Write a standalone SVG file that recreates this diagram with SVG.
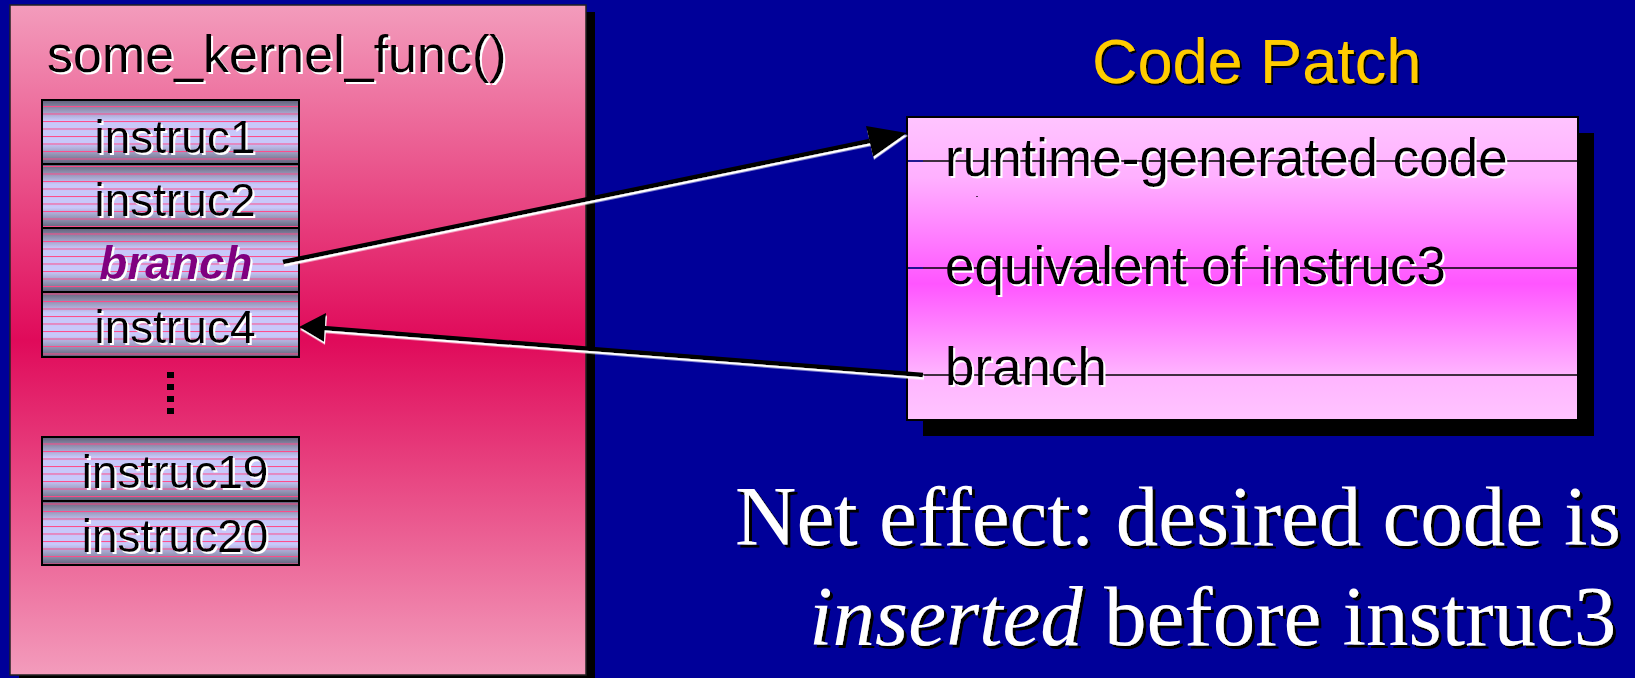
<svg xmlns="http://www.w3.org/2000/svg" width="1635" height="678" viewBox="0 0 1635 678">
<defs>
<linearGradient id="gPanel" x1="0" y1="0" x2="0" y2="1">
<stop offset="0" stop-color="#f39cbc"/>
<stop offset="0.5" stop-color="#e00a5a"/>
<stop offset="1" stop-color="#f39cbc"/>
</linearGradient>
<linearGradient id="gPatch" x1="0" y1="0" x2="0" y2="1">
<stop offset="0" stop-color="#ffc4ff"/>
<stop offset="0.2" stop-color="#ffb0ff"/>
<stop offset="0.55" stop-color="#ff55ff"/>
<stop offset="0.85" stop-color="#ffb4ff"/>
<stop offset="1" stop-color="#ffc4ff"/>
</linearGradient>
<linearGradient id="gInstr" x1="0" y1="0" x2="0" y2="1">
<stop offset="0" stop-color="#5e5e78"/>
<stop offset="0.12" stop-color="#8a8aa8"/>
<stop offset="0.32" stop-color="#c8c8fa"/>
<stop offset="0.68" stop-color="#c8c8fa"/>
<stop offset="0.88" stop-color="#8a8aa8"/>
<stop offset="1" stop-color="#5e5e78"/>
</linearGradient>
<pattern id="pStripe" patternUnits="userSpaceOnUse" x="0" y="1" width="20" height="7.5">
<rect x="0" y="0" width="20" height="1" fill="#ff4a88"/>
</pattern>
<filter id="shW" x="-5%" y="-10%" width="115%" height="130%">
<feDropShadow dx="2" dy="2" stdDeviation="0" flood-color="#ffffff" flood-opacity="1"/>
</filter>
<filter id="shK" x="-5%" y="-10%" width="115%" height="130%">
<feDropShadow dx="3" dy="3" stdDeviation="0" flood-color="#000000" flood-opacity="1"/>
</filter>
<filter id="shK2" x="-5%" y="-10%" width="115%" height="130%">
<feDropShadow dx="2" dy="2" stdDeviation="0" flood-color="#000000" flood-opacity="1"/>
</filter>
<filter id="shArrow" x="-5%" y="-20%" width="115%" height="160%">
<feDropShadow dx="1" dy="2.5" stdDeviation="0" flood-color="#ffffff" flood-opacity="1"/>
</filter>
</defs>
<style>
.sans{font-family:"Liberation Sans",Arial,sans-serif;}
.serif{font-family:"Liberation Serif","Times New Roman",serif;}
.instr-bg{fill:url(#gInstr);}
.instr-st{fill:url(#pStripe);}
.instr-bd{fill:none;stroke:#000;stroke-width:2;}
.itxt{font-size:46px;fill:#000;text-anchor:middle;filter:url(#shW);}
.ptxt{font-size:53px;fill:#000;filter:url(#shW);}
.pline{stroke:#000;stroke-width:1.3;}
.conn{stroke:#000;stroke-width:4.5;fill:none;}
.head{fill:#000;}
</style>
<rect x="0" y="0" width="1635" height="678" fill="#000099"/>

<g id="kernel-func">
<rect x="19" y="12" width="576" height="670" fill="#000"/>
<rect x="10" y="5" width="576" height="670" fill="url(#gPanel)" stroke="#222" stroke-width="1.5"/>
<text class="sans" x="47" y="72" font-size="52" fill="#000" filter="url(#shW)">some_kernel_func()</text>
</g>

<g id="instruc1">
<rect class="instr-bg" x="42" y="100" width="257" height="64"/>
<rect class="instr-st" x="42" y="100" width="257" height="64"/>
<rect class="instr-bd" x="42" y="100" width="257" height="64"/>
<text class="sans itxt" x="175" y="153">instruc1</text>
</g>
<g id="instruc2">
<rect class="instr-bg" x="42" y="164" width="257" height="64"/>
<rect class="instr-st" x="42" y="164" width="257" height="64"/>
<rect class="instr-bd" x="42" y="164" width="257" height="64"/>
<text class="sans itxt" x="175" y="216">instruc2</text>
</g>
<g id="branch">
<rect class="instr-bg" x="42" y="228" width="257" height="64"/>
<rect class="instr-st" x="42" y="228" width="257" height="64"/>
<rect class="instr-bd" x="42" y="228" width="257" height="64"/>
<text class="sans itxt" x="176" y="279" font-weight="bold" font-style="italic" style="fill:#800080">branch</text>
</g>
<g id="instruc4">
<rect class="instr-bg" x="42" y="292" width="257" height="65"/>
<rect class="instr-st" x="42" y="292" width="257" height="65"/>
<rect class="instr-bd" x="42" y="292" width="257" height="65"/>
<text class="sans itxt" x="175" y="343">instruc4</text>
</g>
<g id="ellipsis" fill="#000">
<rect x="167" y="372" width="7" height="6"/>
<rect x="167" y="384" width="7" height="6"/>
<rect x="167" y="396" width="7" height="6"/>
<rect x="167" y="408" width="7" height="6"/>
</g>
<g id="instruc19">
<rect class="instr-bg" x="42" y="437" width="257" height="64"/>
<rect class="instr-st" x="42" y="437" width="257" height="64"/>
<rect class="instr-bd" x="42" y="437" width="257" height="64"/>
<text class="sans itxt" x="175" y="488">instruc19</text>
</g>
<g id="instruc20">
<rect class="instr-bg" x="42" y="501" width="257" height="64"/>
<rect class="instr-st" x="42" y="501" width="257" height="64"/>
<rect class="instr-bd" x="42" y="501" width="257" height="64"/>
<text class="sans itxt" x="175" y="552">instruc20</text>
</g>

<g id="code-patch">
<text class="sans" x="1092" y="83" font-size="63" fill="#ffcc00" filter="url(#shK2)">Code Patch</text>
<rect x="923" y="133" width="671" height="303" fill="#000"/>
<rect x="907" y="117" width="671" height="303" fill="url(#gPatch)" stroke="#000" stroke-width="2"/>
<line class="pline" x1="907" y1="161" x2="1578" y2="161"/>
<line class="pline" x1="907" y1="268" x2="1578" y2="268"/>
<line class="pline" x1="907" y1="375" x2="1578" y2="375"/>
<line x1="908" y1="161" x2="923" y2="161" stroke="#1010c0" stroke-width="1.3"/>
<line x1="908" y1="268" x2="923" y2="268" stroke="#1010c0" stroke-width="1.3"/>
<rect x="976" y="196" width="2" height="1" fill="#503050"/>
<text class="sans ptxt" x="945" y="176">runtime-generated code</text>
<text class="sans ptxt" x="945" y="284">equivalent of instruc3</text>
<text class="sans ptxt" x="945" y="385">branch</text>
</g>

<g id="connectors" filter="url(#shArrow)">
<line class="conn" x1="283" y1="262" x2="870" y2="141"/>
<polygon class="head" points="907,133 866,126 873,157"/>
<line class="conn" x1="923" y1="375" x2="323" y2="328"/>
<polygon class="head" points="299,327 326,313 324,342"/>
</g>

<g id="net-effect" class="serif" font-size="85" fill="#fff" filter="url(#shK)">
<text x="735" y="545">Net effect: desired code is</text>
<text x="809" y="645"><tspan font-style="italic">inserted</tspan> before instruc3</text>
</g>
</svg>
